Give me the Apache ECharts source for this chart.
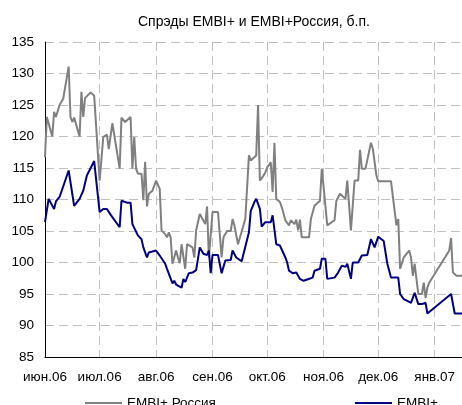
<!DOCTYPE html>
<html><head><meta charset="utf-8">
<script src="https://cdn.jsdelivr.net/npm/echarts@6/dist/echarts.min.js"></script>
<style>html,body{margin:0;padding:0;background:#fff}#c{width:462px;height:405px}</style>
</head><body><div id="c"></div>
<script>
const titleText = 'Спрэды EMBI+ и EMBI+Россия, б.п.';
const monthStarts = ['2006-06-01','2006-07-01','2006-08-01','2006-09-01','2006-10-01','2006-11-01','2006-12-01','2007-01-01'];
const monthLabels = ['июн.06','июл.06','авг.06','сен.06','окт.06','ноя.06','дек.06','янв.07'];
const seriesNames = ['EMBI+ Россия','EMBI+'];

const rusDates = ['2006-06-01','2006-06-02','2006-06-05','2006-06-06','2006-06-07','2006-06-09','2006-06-10','2006-06-11','2006-06-14','2006-06-15','2006-06-16','2006-06-17','2006-06-20','2006-06-21','2006-06-22','2006-06-23','2006-06-26','2006-06-27','2006-06-28',
'2006-07-01','2006-07-03','2006-07-05','2006-07-06','2006-07-08','2006-07-12','2006-07-13','2006-07-15','2006-07-18','2006-07-19','2006-07-20','2006-07-21','2006-07-22','2006-07-24','2006-07-25','2006-07-26','2006-07-27','2006-07-28','2006-07-30',
'2006-08-01','2006-08-03','2006-08-04','2006-08-06','2006-08-07','2006-08-08','2006-08-09','2006-08-10','2006-08-12','2006-08-13','2006-08-14','2006-08-15','2006-08-16','2006-08-17','2006-08-18','2006-08-21','2006-08-22','2006-08-23','2006-08-25','2006-08-28','2006-08-29','2006-08-30',
'2006-09-01','2006-09-04','2006-09-06','2006-09-07','2006-09-09','2006-09-11','2006-09-12','2006-09-13','2006-09-15','2006-09-19','2006-09-21','2006-09-22','2006-09-23','2006-09-25','2006-09-26','2006-09-27','2006-09-29','2006-09-30',
'2006-10-01','2006-10-03','2006-10-04','2006-10-05','2006-10-06','2006-10-08','2006-10-09','2006-10-11','2006-10-12','2006-10-13','2006-10-14','2006-10-16','2006-10-17','2006-10-18','2006-10-19','2006-10-20','2006-10-24','2006-10-25','2006-10-27','2006-10-30','2006-10-31',
'2006-11-01','2006-11-02','2006-11-03','2006-11-07','2006-11-08','2006-11-10','2006-11-13','2006-11-14','2006-11-16','2006-11-18','2006-11-20','2006-11-21','2006-11-22','2006-11-24','2006-11-27','2006-11-28','2006-11-30',
'2006-12-01','2006-12-08','2006-12-11','2006-12-12','2006-12-13','2006-12-15','2006-12-18','2006-12-19','2006-12-20','2006-12-21','2006-12-23','2006-12-25','2006-12-26','2006-12-27','2006-12-28','2006-12-29',
'2007-01-09','2007-01-10','2007-01-11','2007-01-13','2007-01-16'];
const rusValues = [116.7,123.1,120.0,123.9,123.1,125.0,125.1,126.0,131.1,123.1,122.3,123.0,120.0,127.1,123.1,126.1,127.0,127.1,126.5,
113.0,119.9,120.3,118.0,122.1,114.9,123.0,122.3,123.1,114.9,119.9,114.9,114.1,114.1,109.9,116.0,108.9,110.9,111.4,
113.0,111.7,105.1,104.5,104.0,104.8,104.0,99.8,101.9,100.8,99.9,102.9,102.9,99.0,102.9,102.4,100.8,105.1,107.7,106.1,108.9,100.8,
108.0,108.0,100.8,104.0,105.0,105.0,106.9,105.9,102.9,106.9,117.0,116.2,115.9,117.0,125.0,113.0,113.8,114.3,
115.1,115.9,111.2,119.0,110.1,109.6,108.8,106.7,106.8,105.9,106.7,106.1,106.8,105.1,106.8,104.0,104.0,106.9,109.0,109.8,114.9,
112.0,112.0,105.9,106.7,109.8,110.9,110.1,113.0,105.1,113.0,113.0,117.9,114.9,114.9,119.0,118.1,113.8,
112.9,112.9,105.9,106.9,99.0,100.8,101.9,100.8,97.9,99.8,95.0,95.0,96.8,94.4,96.0,96.8,
101.9,103.9,98.4,97.9,97.9];

const embiDates = ['2006-06-01','2006-06-03','2006-06-06','2006-06-07','2006-06-08','2006-06-09','2006-06-10','2006-06-14','2006-06-17','2006-06-20','2006-06-21','2006-06-22','2006-06-23','2006-06-24','2006-06-28',
'2006-07-01','2006-07-03','2006-07-05','2006-07-07','2006-07-08','2006-07-12','2006-07-13','2006-07-16','2006-07-18','2006-07-19','2006-07-20','2006-07-22','2006-07-24','2006-07-25','2006-07-26','2006-07-27','2006-07-28',
'2006-08-01','2006-08-03','2006-08-06','2006-08-07','2006-08-10','2006-08-11','2006-08-12','2006-08-15','2006-08-16','2006-08-17','2006-08-19','2006-08-21','2006-08-23','2006-08-25','2006-08-27','2006-08-29','2006-08-30','2006-08-31',
'2006-09-01','2006-09-04','2006-09-06','2006-09-08','2006-09-11','2006-09-12','2006-09-14','2006-09-17','2006-09-18','2006-09-21','2006-09-22','2006-09-24','2006-09-25','2006-09-27','2006-09-28','2006-09-30',
'2006-10-03','2006-10-04','2006-10-06','2006-10-08','2006-10-09','2006-10-11','2006-10-12','2006-10-13','2006-10-15','2006-10-17','2006-10-18','2006-10-19','2006-10-21','2006-10-23','2006-10-24','2006-10-26','2006-10-27','2006-10-30','2006-10-31',
'2006-11-02','2006-11-03','2006-11-07','2006-11-09','2006-11-11','2006-11-13','2006-11-14','2006-11-16','2006-11-17','2006-11-20','2006-11-22','2006-11-25','2006-11-27','2006-11-28','2006-11-29',
'2006-12-01','2006-12-02','2006-12-04','2006-12-06','2006-12-08','2006-12-12','2006-12-13','2006-12-15','2006-12-17','2006-12-19','2006-12-20','2006-12-21','2006-12-23','2006-12-25','2006-12-27','2006-12-28',
'2007-01-10','2007-01-12','2007-01-16'];
const embiValues = [106.4,110.1,108.5,109.7,109.4,110.4,110.1,114.6,109.0,110.1,110.2,111.4,111.7,113.8,116.1,
108.0,108.5,108.5,107.6,107.5,105.6,109.8,109.5,109.5,106.1,105.9,104.3,103.7,102.4,102.2,100.8,101.6,
101.9,101.1,99.8,99.0,96.7,97.1,96.5,96.0,97.4,96.9,98.3,98.4,98.8,102.4,101.4,101.2,101.9,98.3,
101.2,101.2,98.3,100.3,100.4,101.9,100.8,100.2,100.0,104.8,108.2,109.6,110.1,108.5,105.7,106.4,
106.4,107.5,102.9,102.7,102.4,100.8,100.0,98.7,98.3,98.4,98.6,97.4,97.1,97.3,97.1,97.6,98.7,99.0,100.6,
100.6,97.4,97.6,98.4,99.5,99.3,99.8,97.4,100.0,100.0,101.1,101.2,103.7,103.7,102.4,
104.1,103.9,103.4,99.8,97.6,97.6,95.0,94.2,93.9,93.6,93.4,95.2,93.4,93.4,93.6,91.9,
95.0,91.9,91.9];

const xMin = '2006-06-01', xMax = '2007-01-16';
const yMin = 85, yMax = 135, yStep = 5;

function ts(s){ const p = s.split('-').map(Number); return Date.UTC(p[0], p[1]-1, p[2]); }
const monthTs = monthStarts.map(ts);
const pairs = (d, v) => d.map((s, i) => [ts(s), v[i]]);

const chart = echarts.init(document.getElementById('c'), null, {renderer:'canvas'});
const FONT = 'Liberation Sans, Arial, sans-serif';
chart.setOption({
  animation:false,
  backgroundColor:'#fff',
  title:{text:titleText, left:138, top:15, padding:0, textStyle:{fontFamily:FONT, fontSize:14, fontWeight:'normal', color:'#000'}},
  grid:{left:45, right:0, top:42, bottom:48, containLabel:false},
  legend:[
    {data:[seriesNames[0]], left:85, top:396, padding:0, icon:'rect', itemWidth:37, itemHeight:2, textStyle:{fontFamily:FONT, fontSize:13.5, color:'#000'}},
    {data:[seriesNames[1]], left:355, top:396, padding:0, icon:'rect', itemWidth:37, itemHeight:2, textStyle:{fontFamily:FONT, fontSize:13.5, color:'#000'}}
  ],
  xAxis:{type:'value', min:ts(xMin), max:ts(xMax),
    axisLine:{show:true, onZero:false, lineStyle:{color:'#000', width:1}},
    axisTick:{show:false, customValues:monthTs},
    axisLabel:{customValues:monthTs, fontFamily:FONT, fontSize:13.5, color:'#000', margin:13, showMaxLabel:true, showMinLabel:true,
      formatter:function(v){ const i = monthTs.indexOf(v); return i>=0 ? monthLabels[i] : ''; }},
    splitLine:{show:true, lineStyle:{color:'#c0c0c0', type:[9,5], width:1}}
  },
  yAxis:{type:'value', min:yMin, max:yMax, interval:yStep,
    axisLine:{show:true, lineStyle:{color:'#000', width:1}},
    axisTick:{show:false},
    axisLabel:{fontFamily:FONT, fontSize:13.5, color:'#000', margin:11},
    splitLine:{show:true, lineStyle:{color:'#c0c0c0', type:[9,5], width:1}}
  },
  series:[
    {name:seriesNames[0], type:'line', data:pairs(rusDates, rusValues), showSymbol:false, symbol:'none', lineStyle:{color:'#808080', width:2}, itemStyle:{color:'#808080'}},
    {name:seriesNames[1], type:'line', data:pairs(embiDates, embiValues), showSymbol:false, symbol:'none', lineStyle:{color:'#000080', width:2}, itemStyle:{color:'#000080'}}
  ]
});
</script></body></html>
